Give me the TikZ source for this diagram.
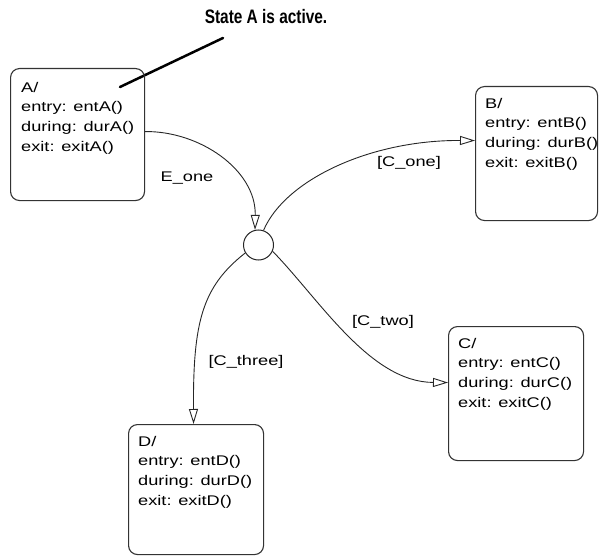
\documentclass[tikz,border=0pt]{standalone}
\usepackage{fontspec}
\usetikzlibrary{arrows.meta}
\newfontfamily\lblfont{Liberation Sans}[FakeStretch=1.3]
\newfontfamily\titlefont{Liberation Sans}
\begin{document}
\begin{tikzpicture}[x=1pt,y=-1pt,
  statebox/.style={draw=black!80, line width=1.1pt, rounded corners=9pt, anchor=north west, inner sep=0pt},
  stxt/.style={anchor=north west, inner sep=0pt, align=left, font={\lblfont\fontsize{14}{19.6}\selectfont}},
  lbl/.style={inner sep=0pt, font={\lblfont\fontsize{14}{19.6}\selectfont}},
  trans/.style={draw=black!85, line width=0.9pt, -{Triangle[open,length=15pt,width=9pt]}},
  junc/.style={draw=black!85, line width=1pt, circle, minimum size=30pt, inner sep=0pt}]
\useasboundingbox (0,0) rectangle (599,556);
% title and leader
\node[inner sep=0pt, font={\titlefont\bfseries\fontsize{19.5}{22}\selectfont}] (title) at (266,17) {\scalebox{0.79}[1]{State A is active.}};
\coordinate (p1) at (223,38);
\coordinate (p2) at (120,87);
\draw[line width=2.5pt, line cap=round] (p1) -- (p2);
% states
\node[statebox, minimum width=134pt, minimum height=132pt] (A) at (10,68) {};
\node[stxt] at (21,82) {A/\\entry: entA()\\during: durA()\\exit: exitA()};
\node[statebox, minimum width=122pt, minimum height=134pt] (B) at (475,86) {};
\node[stxt] at (485,98) {B/\\entry: entB()\\during: durB()\\exit: exitB()};
\node[statebox, minimum width=135pt, minimum height=134pt] (C) at (448,326) {};
\node[stxt] at (458,338) {C/\\entry: entC()\\during: durC()\\exit: exitC()};
\node[statebox, minimum width=135pt, minimum height=130pt] (D) at (128,424) {};
\node[stxt] at (138,436) {D/\\entry: entD()\\during: durD()\\exit: exitD()};
% junction
\node[junc] (J) at (258.5,245) {};
% transitions
\draw[trans] ([yshift=3pt]A.east) .. controls (200,131) and (256,170) .. (J.103);
\draw[trans] (J.71) .. controls (285,180) and (370,140) .. ([yshift=13pt]B.west);
\draw[trans] (J.-24) .. controls (320,300) and (370,382) .. ([yshift=11pt]C.west);
\draw[trans] (J.211) .. controls (202,287) and (193,322) .. ([xshift=-2.5pt]D.north);
% labels
\node[lbl] (l1) at (187,178) {E\_one};
\node[lbl] (l2) at (409,163) {[C\_one]};
\node[lbl] (l3) at (383,322) {[C\_two]};
\node[lbl] (l4) at (246,362) {[C\_three]};
\end{tikzpicture}
\end{document}
